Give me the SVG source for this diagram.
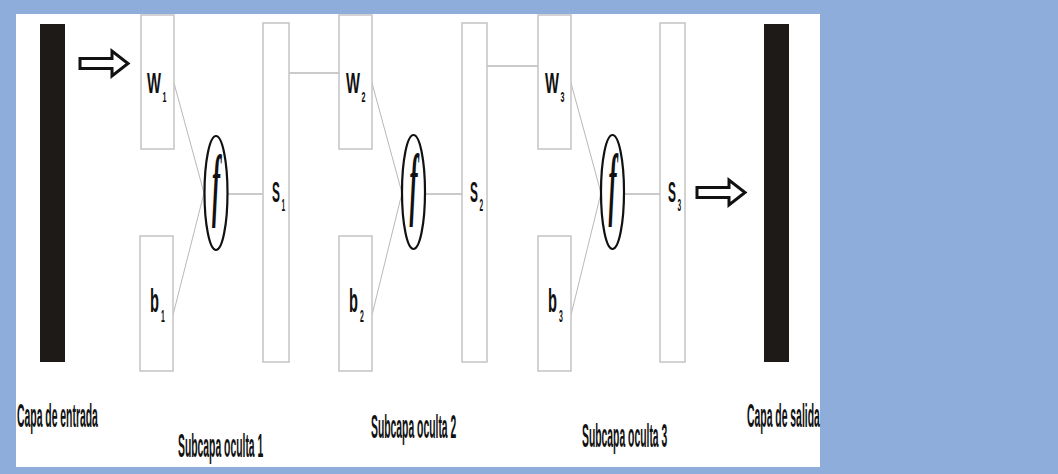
<svg xmlns="http://www.w3.org/2000/svg" width="1058" height="474" viewBox="0 0 1058 474">
<style>
.box{fill:#fff;stroke:#c4c4c4;stroke-width:1.5}
.bar{fill:#1e1a17}
.ln{stroke:#b8b8b8;stroke-width:1.5;fill:none}
.dg{stroke:#b8b8b8;stroke-width:1;fill:none}
.el{fill:#fff;stroke:#111;stroke-width:2.2}
.arr{fill:#fff;stroke:#111;stroke-width:3;stroke-linejoin:miter}
.t{font-family:"Liberation Sans",Arial,sans-serif;fill:#111;font-weight:bold}
.lbl{font-family:"Liberation Sans",Arial,sans-serif;fill:#111;font-weight:bold;font-size:34px}
.f{font-family:"Liberation Serif","Times New Roman",serif;font-style:italic;font-weight:bold;fill:#111}
</style>
<rect x="0" y="0" width="1058" height="474" fill="#8fadda"/>
<rect x="16" y="14" width="804" height="453" fill="#fff"/>

<g id="connectors">
  <line class="ln" x1="289" y1="73" x2="339" y2="73"/>
  <line class="ln" x1="487" y1="66" x2="538" y2="66"/>
  <line class="ln" x1="228" y1="194" x2="263" y2="194"/>
  <line class="ln" x1="425" y1="194" x2="462" y2="194"/>
  <line class="ln" x1="624" y1="194" x2="660" y2="194"/>
  <line class="dg" x1="174" y1="83" x2="204" y2="193"/>
  <line class="dg" x1="173" y1="315" x2="204" y2="193"/>
  <line class="dg" x1="372" y1="83" x2="402" y2="193"/>
  <line class="dg" x1="372" y1="315" x2="402" y2="193"/>
  <line class="dg" x1="571" y1="83" x2="601" y2="193"/>
  <line class="dg" x1="571" y1="315" x2="601" y2="193"/>
  <path class="arr" d="M80,58.5 L112,58.5 L112,51 L128,63.5 L112,76 L112,68.5 L80,68.5 Z"/>
  <path class="arr" d="M697,187.5 L729,187.5 L729,180 L745,192.5 L729,205 L729,197.5 L697,197.5 Z"/>
</g>

<g id="input-layer">
  <rect class="bar" x="40" y="24" width="25" height="338"/>
  <text class="lbl" transform="translate(17,427) scale(0.306,1)">Capa de entrada</text>
</g>
<g id="output-layer">
  <rect class="bar" x="764" y="24" width="25" height="338"/>
  <text class="lbl" transform="translate(747,427) scale(0.306,1)">Capa de salida</text>
</g>

<g id="W1">
  <rect class="box" x="141" y="15" width="33" height="134"/>
  <text class="t" transform="translate(147,93) scale(0.51,1)" font-size="29">W<tspan dx="3" dy="9" font-size="14">1</tspan></text>
</g>
<g id="b1">
  <rect class="box" x="140" y="236" width="33" height="135"/>
  <text class="t" transform="translate(150,312) scale(0.43,1)" font-size="34">b<tspan dx="5" dy="10" font-size="16">1</tspan></text>
</g>
<g id="f1">
  <ellipse class="el" cx="216" cy="193" rx="11.5" ry="57"/>
  <text class="f" transform="translate(216,193) scale(0.6,2)" x="0" y="9" font-size="40" text-anchor="middle">f</text>
</g>
<g id="S1">
  <rect class="box" x="263" y="23" width="26" height="339"/>
  <text class="t" transform="translate(272,202) scale(0.41,1)" font-size="29">S<tspan dx="4" dy="9" font-size="16">1</tspan></text>
</g>
<g id="label1">
  <text class="lbl" transform="translate(178,457) scale(0.305,1)">Subcapa oculta 1</text>
</g>

<g id="W2">
  <rect class="box" x="339" y="15" width="33" height="134"/>
  <text class="t" transform="translate(346,93) scale(0.51,1)" font-size="29">W<tspan dx="3" dy="9" font-size="14">2</tspan></text>
</g>
<g id="b2">
  <rect class="box" x="339" y="236" width="33" height="135"/>
  <text class="t" transform="translate(349,312) scale(0.43,1)" font-size="34">b<tspan dx="5" dy="10" font-size="16">2</tspan></text>
</g>
<g id="f2">
  <ellipse class="el" cx="413.5" cy="192" rx="11.5" ry="57"/>
  <text class="f" transform="translate(413.5,192) scale(0.6,2)" x="0" y="9" font-size="40" text-anchor="middle">f</text>
</g>
<g id="S2">
  <rect class="box" x="462" y="23" width="25" height="339"/>
  <text class="t" transform="translate(470,202) scale(0.41,1)" font-size="29">S<tspan dx="4" dy="9" font-size="16">2</tspan></text>
</g>
<g id="label2">
  <text class="lbl" transform="translate(371,438) scale(0.305,1)">Subcapa oculta 2</text>
</g>

<g id="W3">
  <rect class="box" x="538" y="15" width="33" height="134"/>
  <text class="t" transform="translate(545,93) scale(0.51,1)" font-size="29">W<tspan dx="3" dy="9" font-size="14">3</tspan></text>
</g>
<g id="b3">
  <rect class="box" x="538" y="236" width="33" height="135"/>
  <text class="t" transform="translate(548,312) scale(0.43,1)" font-size="34">b<tspan dx="5" dy="10" font-size="16">3</tspan></text>
</g>
<g id="f3">
  <ellipse class="el" cx="612.5" cy="192" rx="11.5" ry="57"/>
  <text class="f" transform="translate(612.5,192) scale(0.6,2)" x="0" y="9" font-size="40" text-anchor="middle">f</text>
</g>
<g id="S3">
  <rect class="box" x="660" y="23" width="25" height="339"/>
  <text class="t" transform="translate(668,202) scale(0.41,1)" font-size="29">S<tspan dx="4" dy="9" font-size="16">3</tspan></text>
</g>
<g id="label3">
  <text class="lbl" transform="translate(582,447) scale(0.305,1)">Subcapa oculta 3</text>
</g>
</svg>
